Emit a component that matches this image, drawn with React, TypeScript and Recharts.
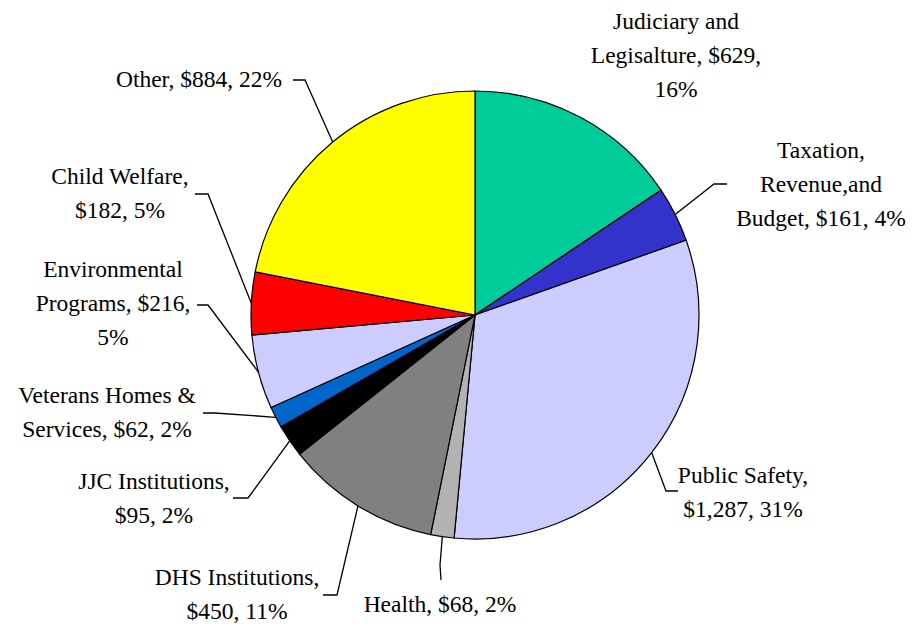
import React from 'react';
import { PieChart, Pie, Cell } from 'recharts';

// slices clockwise from 12 o'clock
const names = [
  'Judiciary and Legisalture',
  'Taxation, Revenue,and Budget',
  'Public Safety',
  'Health',
  'DHS Institutions',
  'JJC Institutions',
  'Veterans Homes & Services',
  'Environmental Programs',
  'Child Welfare',
  'Other',
];
const amounts = [629, 161, 1287, 68, 450, 95, 62, 216, 182, 884];
const percents = [16, 4, 31, 2, 11, 2, 2, 5, 5, 22];
const colors = ['#00CC99', '#3333CC', '#CCCCFF', '#B2B2B2', '#808080', '#000000', '#0066CC', '#CCCCFF', '#FF0000', '#FFFF00'];
// how many words go on each label line
const lineWords = [[2, 2, 1], [1, 1, 3], [2, 2], [3], [2, 2], [2, 2], [3, 3], [1, 2, 1], [2, 2], [3]];

// label placement relative to the pie centre: text centre x, first baseline y, leader elbow and end
const labelLayout = [
  { x: 201, y: -286 },
  { x: 346, y: -157, elbow: [239, -131], end: [252, -131] },
  { x: 268, y: 168, elbow: [191, 176], end: [203, 176] },
  { x: -35, y: 297, elbow: [-35, 250], end: [-34, 265] },
  { x: -238, y: 270, elbow: [-138, 280], end: [-152, 280] },
  { x: -321, y: 174, elbow: [-227, 183], end: [-242, 183] },
  { x: -368, y: 88, elbow: [-260, 98], end: [-272, 98] },
  { x: -362, y: -38, elbow: [-267, -10], end: [-278, -10] },
  { x: -355, y: -131, elbow: [-267, -121], end: [-280, -121] },
  { x: -276, y: -228, elbow: [-170, -235], end: [-182, -235] },
];

const data = names.map((name, i) => ({ name, value: amounts[i] }));

const LINE_H = 34;
const RAD = Math.PI / 180;
const FONT = '"Liberation Serif", "Times New Roman", Times, serif';

const renderLabel = (props: any) => {
  const { cx, cy, midAngle, outerRadius, index } = props;
  const L: any = labelLayout[index];
  const words = `${names[index]}, $${amounts[index].toLocaleString('en-US')}, ${percents[index]}%`.split(' ');
  const lines: string[] = [];
  let k = 0;
  lineWords[index].forEach((n) => {
    lines.push(words.slice(k, k + n).join(' '));
    k += n;
  });
  const sx = cx + outerRadius * Math.cos(-midAngle * RAD);
  const sy = cy + outerRadius * Math.sin(-midAngle * RAD);
  return (
    <g key={`lbl-${index}`}>
      {L.end && (
        <polyline
          points={`${sx},${sy} ${cx + L.elbow[0]},${cy + L.elbow[1]} ${cx + L.end[0]},${cy + L.end[1]}`}
          fill="none"
          stroke="#000"
          strokeWidth={1.3}
        />
      )}
      <text
        x={cx + L.x}
        y={cy + L.y}
        textAnchor="middle"
        fill="#000"
        style={{ fontFamily: FONT, fontSize: 23.5 }}
      >
        {lines.map((ln, i) => (
          <tspan key={i} x={cx + L.x} dy={i === 0 ? 0 : LINE_H}>
            {ln}
          </tspan>
        ))}
      </text>
    </g>
  );
};

export default function App() {
  return (
    <div style={{ position: 'absolute', left: 0, top: 0, background: '#fff' }}>
      <PieChart width={915} height={624} margin={{ top: 0, right: 0, bottom: 0, left: 0 }}>
        <Pie
          data={data}
          dataKey="value"
          cx={475}
          cy={315}
          outerRadius={224}
          startAngle={90}
          endAngle={-270}
          stroke="#000"
          strokeWidth={1.2}
          label={renderLabel}
          labelLine={false}
          isAnimationActive={false}
        >
          {data.map((entry, index) => (
            <Cell key={`cell-${index}`} fill={colors[index]} />
          ))}
        </Pie>
      </PieChart>
    </div>
  );
}
